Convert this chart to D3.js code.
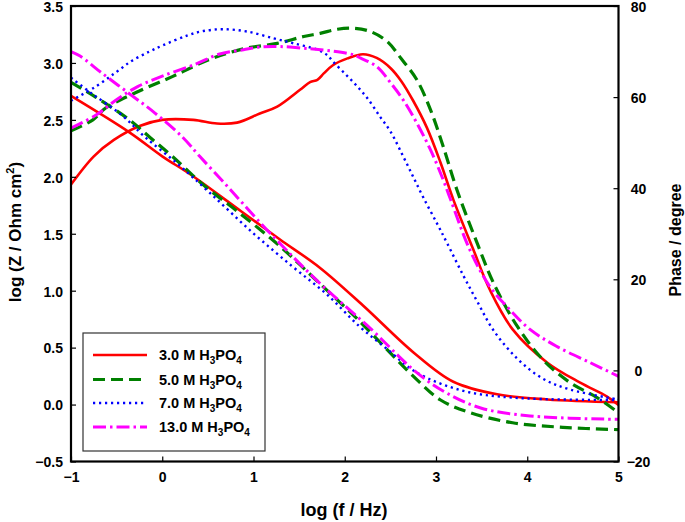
<!DOCTYPE html>
<html>
<head>
<meta charset="utf-8">
<script src="https://cdn.jsdelivr.net/npm/d3@7"></script>
<style>
html,body{margin:0;padding:0;background:#fff;}
svg{display:block;}
text{font-family:"Liberation Sans",Arial,Helvetica,sans-serif;font-weight:bold;fill:#000;}
</style>
</head>
<body>
<svg id="chart" width="685" height="522"></svg>
<script>
// ---------- data (log f / Hz , value) ----------
const concentrations = ["3.0", "5.0", "7.0", "13.0"];

// log |Z| curves (left axis)
const logZ_3M = [[-1,2.71],[-0.36,2.39],[0,2.18],[0.31,2.02],[0.86,1.70],[1.29,1.45],[1.73,1.20],[2.2,0.87],[2.75,0.46],[3.19,0.20],[3.67,0.09],[4.22,0.045],[5,0.02]];
const logZ_5M = [[-1,2.83],[-0.73,2.70],[-0.36,2.50],[-0.14,2.35],[0.11,2.18],[0.45,1.93],[0.85,1.68],[1.29,1.39],[1.73,1.06],[2.14,0.75],[2.75,0.25],[3.05,0.04],[3.37,-0.07],[3.84,-0.16],[4.39,-0.20],[5,-0.22]];
const logZ_7M = [[-1,2.87],[-0.77,2.73],[-0.44,2.54],[-0.19,2.35],[0.16,2.12],[0.52,1.86],[0.99,1.51],[1.43,1.21],[1.80,0.97],[2.17,0.68],[2.46,0.49],[2.79,0.28],[3.30,0.12],[3.85,0.06],[5,0.04]];
const logZ_13M = [[-1,3.10],[-0.9,3.06],[-0.66,2.91],[-0.36,2.73],[-0.08,2.56],[0.22,2.35],[0.41,2.18],[0.71,1.92],[1.07,1.60],[1.43,1.30],[1.76,1.04],[2.14,0.77],[2.28,0.67],[2.79,0.28],[3.12,0.10],[3.49,-0.03],[4.03,-0.10],[5,-0.13]];

// phase curves (right axis, degree)
const phase_3M = [[-1,40.8],[-0.75,47],[-0.53,50.6],[-0.24,53.7],[0,55],[0.34,55],[0.6,54.2],[0.82,54.4],[1.07,56.4],[1.26,57.9],[1.51,61.6],[1.62,63.3],[1.70,63.8],[1.77,65.2],[1.87,67.0],[2.03,68.5],[2.2,69.4],[2.35,68.6],[2.5,66.4],[2.62,63.5],[2.75,59.2],[2.90,53.3],[3.05,45.6],[3.19,37.5],[3.41,26.5],[3.59,17.7],[3.84,9],[4.22,1.7],[4.58,-2.7],[4.87,-5.7],[5,-7.6]];
const phase_5M = [[-1,52.6],[-0.76,55],[-0.62,57.6],[-0.30,60.9],[0.11,64.5],[0.51,68.2],[0.89,70.6],[1.26,71.8],[1.55,73.3],[1.73,74.0],[1.92,74.9],[2.1,75.1],[2.28,74.4],[2.46,72.3],[2.62,68.4],[2.79,63.8],[2.94,57.2],[3.08,49.1],[3.23,39.6],[3.45,28],[3.63,19.2],[3.89,9.7],[4.17,2.4],[4.47,-2.7],[4.76,-5.9],[5,-9.3]];
const phase_7M = [[-1,59.2],[-0.73,62.3],[-0.51,65.4],[-0.33,68.0],[-0.14,70.0],[0,71.3],[0.27,73.5],[0.45,74.5],[0.67,74.9],[0.93,74.4],[1.22,72.9],[1.44,71.8],[1.70,70.4],[1.81,69.2],[1.87,67.8],[2.0,65.2],[2.13,62.5],[2.25,59.7],[2.39,55.6],[2.50,52.5],[2.64,47.0],[2.75,42.5],[2.86,38.0],[3.01,32.3],[3.12,28.0],[3.30,20.8],[3.45,15.2],[3.63,8.8],[3.89,2.6],[4.17,-1.8],[4.47,-4.2],[5,-6.4]];
const phase_13M = [[-1,53.2],[-0.73,56],[-0.49,59.6],[-0.27,62.3],[0,64.6],[0.36,67.2],[0.62,69.4],[0.89,70.4],[1.07,71.0],[1.29,71.1],[1.62,70.6],[1.87,70.1],[2.09,69.3],[2.17,68.6],[2.35,66.7],[2.50,63.2],[2.64,59.4],[2.79,54.3],[2.94,48.4],[3.08,41.8],[3.16,37.5],[3.37,26.5],[3.59,18.4],[3.81,13.3],[4.03,9],[4.32,5.3],[4.69,1.7],[5,-1.3]];

// ticks
const xTicks = [-1,0,1,2,3,4,5];
const yLeftTicks = [-0.5,0.0,0.5,1.0,1.5,2.0,2.5,3.0,3.5];
const yRightTicks = [-20,0,20,40,60,80];

// ---------- layout ----------
const svg = d3.select("#chart");
const L = 71, R = 618.5, T = 6, B = 461.5;

const x = d3.scaleLinear().domain([-1,5]).range([L,R]);
const yL = d3.scaleLinear().domain([-0.5,3.5]).range([B,T]);
const yR = d3.scaleLinear().domain([-20,80]).range([B,T]);

const styles = [
  {color:"#ff0000", width:2.6, dash:null},
  {color:"#008000", width:3.2, dash:"12,6"},
  {color:"#0000ff", width:2.4, dash:"2.2,3.8"},
  {color:"#ff00ff", width:3.0, dash:"13,4,2.5,4"}
];
const zData = [logZ_3M, logZ_5M, logZ_7M, logZ_13M];
const pData = [phase_3M, phase_5M, phase_7M, phase_13M];

const lineZ = d3.line().x(d=>x(d[0])).y(d=>yL(d[1])).curve(d3.curveCatmullRom.alpha(0.5));
const lineP = d3.line().x(d=>x(d[0])).y(d=>yR(d[1])).curve(d3.curveCatmullRom.alpha(0.5));

const curves = svg.append("g");
[0,1,2,3].forEach(i=>{
  const s = styles[i];
  [[zData[i], lineZ],[pData[i], lineP]].forEach(([data,gen])=>{
    curves.append("path")
      .attr("d", gen(data))
      .attr("fill","none")
      .attr("stroke", s.color)
      .attr("stroke-width", s.width)
      .attr("stroke-dasharray", s.dash)
      .attr("stroke-linejoin","round");
  });
});

// ---------- axes ----------
const tickLen = 5;
const axisBottom = d3.axisBottom(x).tickValues(xTicks).tickSizeInner(-tickLen).tickSizeOuter(0).tickPadding(11).tickFormat(d3.format("d"));
const axisLeft = d3.axisLeft(yL).tickValues(yLeftTicks).tickSizeInner(-tickLen).tickSizeOuter(0).tickPadding(8).tickFormat(d3.format(".1f"));
const axisRight = d3.axisRight(yR).tickValues(yRightTicks).tickSizeInner(-tickLen).tickSizeOuter(0).tickPadding(13).tickFormat(d3.format("d"));

function styleAxis(g){
  g.select(".domain").remove();
  g.selectAll(".tick line").attr("stroke","#000").attr("stroke-width",1.2);
  g.selectAll(".tick text").style("font-size","14px").style("font-family",'"Liberation Sans",Arial,sans-serif').style("font-weight","bold").attr("fill","#000");
}
svg.append("g").attr("transform",`translate(0,${B})`).call(axisBottom).call(styleAxis);
const gl = svg.append("g").attr("transform",`translate(${L},0)`).call(axisLeft).call(styleAxis);
const gr = svg.append("g").attr("transform",`translate(${R},0)`).call(axisRight).call(styleAxis);
gr.selectAll(".tick text").attr("text-anchor","middle").attr("x", 20);
gl.selectAll(".tick text").attr("dy","0.38em");
gr.selectAll(".tick text").attr("dy","0.38em");

// frame
svg.append("rect").attr("x",L).attr("y",T).attr("width",R-L).attr("height",B-T)
  .attr("fill","none").attr("stroke","#000").attr("stroke-width",2.2);

// axis titles
svg.append("text").attr("x",344).attr("y",516).attr("text-anchor","middle")
  .style("font-size","18px").text("log (f / Hz)");
const lt = svg.append("text").attr("transform","translate(21,232) rotate(-90)").attr("text-anchor","middle")
  .style("font-size","17px");
lt.append("tspan").text("log (Z / Ohm cm");
lt.append("tspan").attr("dy",-7).style("font-size","11px").text("2");
lt.append("tspan").attr("dy",7).text(")");
svg.append("text").attr("transform","translate(681,240) rotate(-90)").attr("text-anchor","middle")
  .style("font-size","16px").text("Phase / degree");

// ---------- legend ----------
const lg = svg.append("g");
lg.append("rect").attr("x",83).attr("y",333).attr("width",182).attr("height",118)
  .attr("fill","#fff").attr("stroke","#333").attr("stroke-width",1.2);
const rowY = [355,379.5,403,427];
concentrations.forEach((c,i)=>{
  const s = styles[i];
  lg.append("line").attr("x1",93).attr("x2",147).attr("y1",rowY[i]).attr("y2",rowY[i])
    .attr("stroke",s.color).attr("stroke-width",s.width).attr("stroke-dasharray",s.dash);
  const t = lg.append("text").attr("x",159).attr("y",rowY[i]+5).style("font-size","14.5px");
  t.append("tspan").text(c + " M H");
  t.append("tspan").attr("dy",4).style("font-size","10px").text("3");
  t.append("tspan").attr("dy",-4).text("PO");
  t.append("tspan").attr("dy",4).style("font-size","10px").text("4");
});
</script>
</body>
</html>
